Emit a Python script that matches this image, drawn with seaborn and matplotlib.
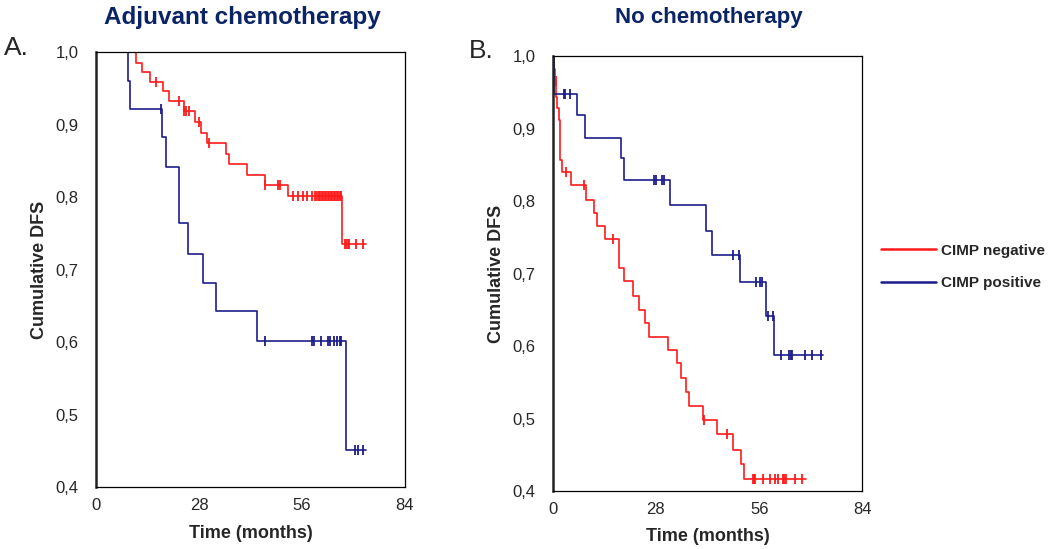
import matplotlib
matplotlib.use("Agg")
import matplotlib.pyplot as plt
import seaborn as sns
import numpy as np
import pandas as pd

#Colours of the two groups
negColor = "#ff1a1a"
posColor = "#1c1c8c"
titleColor = "#0b2466"

#########################################
# Panel A - adjuvant chemotherapy (KM)  #
#########################################

#CIMP negative: step times (months) and survival after each step
aNegTime = [0, 10.8, 12.4, 14.7, 18.1, 19.9, 23.8, 27.0, 28.5, 30.3, 35.3, 36.1, 41.0, 45.9, 52.1, 66.8, 73.3]
aNegSurv = [1.0, 0.985, 0.973, 0.958, 0.946, 0.932, 0.918, 0.904, 0.889, 0.875, 0.860, 0.846, 0.830, 0.816, 0.801, 0.735, 0.735]
aNegCens = [16.4, 22.5, 24.0, 24.5, 25.2, 27.9, 30.7, 46.0, 49.6, 49.9, 53.6, 55.0, 56.4, 57.4, 58.6,
            59.5, 60.0, 60.5, 61.0, 61.4, 61.8, 62.2, 62.6, 63.0, 63.4, 63.8, 64.2, 64.6, 65.0, 65.4,
            65.8, 66.2, 66.5, 67.7, 68.0, 68.4, 68.9, 70.7, 72.7]

#CIMP positive
aPosTime = [0, 8.8, 9.2, 17.9, 19.1, 22.5, 25.1, 29.2, 32.6, 43.7, 68.0, 73.3]
aPosSurv = [1.0, 0.960, 0.922, 0.883, 0.842, 0.764, 0.722, 0.682, 0.643, 0.602, 0.451, 0.451]
aPosCens = [17.7, 45.9, 58.6, 59.3, 61.3, 63.1, 63.6, 64.8, 65.4, 66.3, 66.6, 70.4, 71.3, 72.7]

#########################################
# Panel B - no chemotherapy (KM)        #
#########################################

bNegTime = [0, 0.3, 0.7, 1.0, 1.2, 1.6, 2.1, 2.6, 4.9, 8.9, 11.1, 11.9, 14.2, 18.0, 19.4, 21.9, 23.4,
            25.1, 26.1, 31.3, 33.6, 34.8, 36.2, 36.9, 40.9, 44.5, 49.0, 51.0, 51.9, 68.7]
bNegSurv = [1.0, 0.982, 0.965, 0.943, 0.928, 0.912, 0.857, 0.840, 0.822, 0.802, 0.784, 0.765, 0.747,
            0.708, 0.690, 0.669, 0.650, 0.632, 0.612, 0.594, 0.576, 0.556, 0.537, 0.517, 0.498, 0.478,
            0.457, 0.437, 0.417, 0.417]
bNegCens = [0.4, 0.9, 3.5, 8.6, 16.4, 41.0, 47.2, 54.3, 54.6, 54.9, 57.1, 59.0, 60.3, 61.2, 62.4,
            62.8, 63.3, 65.7, 67.5]

bPosTime = [0, 0.4, 6.6, 8.8, 18.6, 19.4, 31.8, 41.6, 43.2, 50.7, 57.8, 60.1, 73.4]
bPosSurv = [1.0, 0.947, 0.918, 0.887, 0.860, 0.829, 0.794, 0.759, 0.725, 0.688, 0.641, 0.588, 0.588]
bPosCens = [3.1, 3.3, 4.7, 27.4, 28.0, 29.7, 30.3, 49.0, 50.4, 55.2, 56.2, 56.7, 58.5, 59.7, 61.9,
            64.2, 64.6, 65.0, 68.4, 70.3, 72.8]

#Axis ticks
xTicks = [0, 28, 56, 84]
yTicks = [0.4, 0.5, 0.6, 0.7, 0.8, 0.9, 1.0]
yTickLabels = ["0,4", "0,5", "0,6", "0,7", "0,8", "0,9", "1,0"]

groupNames = ["CIMP negative", "CIMP positive"]


def drawCurve(ax, times, surv, cens, color, label):
    #Step curve
    curve = pd.DataFrame({"Time": times, "Surv": surv})
    sns.lineplot(data=curve, x="Time", y="Surv", ax=ax, color=color, drawstyle="steps-post",
                 linewidth=1.2, estimator=None, sort=False, label=label)
    #Censored patients as vertical ticks on the curve
    idx = np.searchsorted(np.asarray(times), np.asarray(cens), side="right") - 1
    censDf = pd.DataFrame({"Time": cens, "Surv": np.asarray(surv)[idx]})
    sns.scatterplot(data=censDf, x="Time", y="Surv", ax=ax, color=color, marker="|",
                    s=60, linewidth=1.3, legend=False)


def styleAxis(ax, labelX):
    ax.set_xlim(0, 84)
    ax.set_ylim(0.4, 1.0)
    ax.set_xticks(xTicks)
    ax.set_xticklabels([str(t) for t in xTicks], fontsize=12)
    ax.set_yticks(yTicks)
    ax.set_yticklabels(yTickLabels, fontsize=12)
    ax.tick_params(axis="y", direction="out", length=4, width=1, pad=8.5)
    ax.tick_params(axis="x", direction="out", length=4, width=1, pad=4)
    for side in ["top", "right", "bottom"]:
        ax.spines[side].set_linewidth(0.9)
        ax.spines[side].set_color("black")
    ax.spines["left"].set_linewidth(1.8)
    ax.spines["left"].set_color("#222222")
    ax.set_xlabel("Time (months)", fontsize=13, fontweight="bold", labelpad=8)
    ax.set_ylabel("Cumulative DFS", fontsize=13, fontweight="bold")
    ax.yaxis.set_label_coords(labelX, 0.5)
    ax.grid(False)


def main():

    sns.set_theme(style="white")
    plt.rcParams["font.family"] = ["Liberation Sans", "DejaVu Sans"]

    fig = plt.figure(figsize=(10.5, 5.49), dpi=100)
    axA = fig.add_axes([0.0914, 0.1124, 0.2943, 0.7929])
    axB = fig.add_axes([0.5264, 0.1056, 0.2949, 0.7924])

    #Panel A
    drawCurve(axA, aNegTime, aNegSurv, aNegCens, negColor, groupNames[0])
    drawCurve(axA, aPosTime, aPosSurv, aPosCens, posColor, groupNames[1])
    styleAxis(axA, -0.155)
    axA.get_legend().remove()

    #Panel B
    drawCurve(axB, bNegTime, bNegSurv, bNegCens, negColor, groupNames[0])
    drawCurve(axB, bPosTime, bPosSurv, bPosCens, posColor, groupNames[1])
    styleAxis(axB, -0.155)
    handles, labels = axB.get_legend_handles_labels()
    axB.get_legend().remove()

    #Legend on the right of panel B
    leg = fig.legend(handles, labels, loc="upper left", bbox_to_anchor=(0.826, 0.581),
                     frameon=False, handlelength=3.6, handletextpad=0.35, labelspacing=1.2,
                     prop={"size": 11, "weight": "bold"})
    for line in leg.get_lines():
        line.set_linewidth(1.8)

    #Titles and panel letters
    fig.text(0.2305, 0.968, "Adjuvant chemotherapy", ha="center", va="center",
             fontsize=17.5, fontweight="bold", color=titleColor)
    fig.text(0.675, 0.968, "No chemotherapy", ha="center", va="center",
             fontsize=16, fontweight="bold", color=titleColor)
    fig.text(0.004, 0.913, "A.", ha="left", va="center", fontsize=19)
    fig.text(0.447, 0.908, "B.", ha="left", va="center", fontsize=19)

    fig.savefig("out.png", dpi=100)


if __name__ == "__main__":
    main()
